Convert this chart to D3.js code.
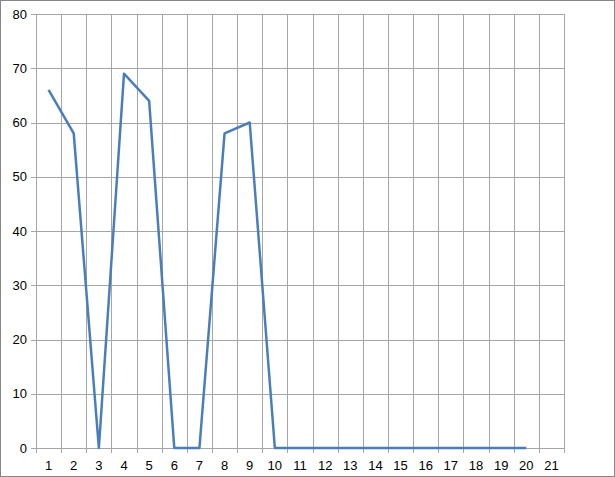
<!DOCTYPE html>
<html><head><meta charset="utf-8">
<script src="https://cdn.jsdelivr.net/npm/d3@7"></script>
<style>body{margin:0;background:#fff}svg{display:block}</style>
</head><body>
<svg id="c" width="615" height="477"></svg>
<script>
const categories = d3.range(1, 22).map(String);
const values = [66, 58, 0, 69, 64, 0, 0, 58, 60, 0, 0, 0, 0, 0, 0, 0, 0, 0, 0, 0];
const yTicks = [0, 10, 20, 30, 40, 50, 60, 70, 80];

const svg = d3.select("#c");
const W = 615, H = 477;
const m = {l: 36, t: 14, r: 51, b: 29};
svg.append("rect").attr("x", 0.5).attr("y", 0.5).attr("width", W - 1).attr("height", H - 1)
  .attr("fill", "#fff").attr("stroke", "#868686");

const x = d3.scaleBand().domain(categories).range([m.l, W - m.r]).paddingInner(0).paddingOuter(0);
const y = d3.scaleLinear().domain([0, 80]).range([H - m.b, m.t]);
const grid = "#a6a6a6";
const g = svg.append("g");

// horizontal gridlines
g.selectAll(".hg").data(yTicks).join("line")
  .attr("x1", m.l - 5).attr("x2", W - m.r)
  .attr("y1", d => Math.round(y(d)) + 0.5).attr("y2", d => Math.round(y(d)) + 0.5)
  .attr("stroke", grid).attr("stroke-width", 1);
// vertical gridlines at band boundaries
const bounds = categories.map(c => x(c)).concat([x(categories[categories.length - 1]) + x.bandwidth()]);
g.selectAll(".vg").data(bounds).join("line")
  .attr("x1", d => Math.round(d) + 0.5).attr("x2", d => Math.round(d) + 0.5)
  .attr("y1", m.t).attr("y2", H - m.b + 5)
  .attr("stroke", grid).attr("stroke-width", 1);

// y labels
svg.selectAll(".yl").data(yTicks).join("text")
  .attr("x", 27).attr("y", d => y(d)).attr("dy", "0.35em")
  .attr("text-anchor", "end").attr("font-family", "Liberation Sans, Arial, sans-serif")
  .attr("font-size", 13).attr("fill", "#000").text(d => d);
// x labels
svg.selectAll(".xl").data(categories).join("text")
  .attr("x", d => x(d) + x.bandwidth() / 2).attr("y", H - m.b + 22)
  .attr("text-anchor", "middle").attr("font-family", "Liberation Sans, Arial, sans-serif")
  .attr("font-size", 13).attr("fill", "#000").text(d => d);

// line
const line = d3.line().x((d, i) => x(categories[i]) + x.bandwidth() / 2).y(d => y(d));
svg.append("path").datum(values).attr("d", line)
  .attr("fill", "none").attr("stroke", "#4a7ebb").attr("stroke-width", 2.5)
  .attr("stroke-linejoin", "round");
</script>
</body></html>
